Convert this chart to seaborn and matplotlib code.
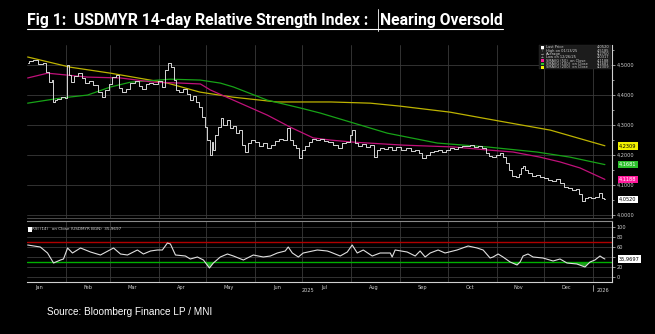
import numpy as np
import pandas as pd
import matplotlib
matplotlib.use("Agg")
import matplotlib.pyplot as plt
import matplotlib.dates as mdates
import matplotlib.ticker as mticker
import matplotlib.transforms as mtransforms
from matplotlib.lines import Line2D
from matplotlib.patches import Rectangle
import seaborn as sns

# ---------------- data (days since 2025-01-01) ----------------
start = pd.Timestamp("2025-01-01")

price_days = [7, 9, 12, 15, 18, 19.6, 21.5, 23, 23.4, 25, 26.6, 29.7, 31, 32.3, 33.5, 35.4, 37, 40.5, 42, 45,
              47, 50, 53, 55, 57, 59.5, 61.4, 64, 66, 68, 70, 74, 76.5, 78.4, 80.3, 83, 85, 88, 91, 93,
              95, 97, 99, 100, 102, 104, 107, 109, 111, 113, 114.5, 116.4, 118.3, 120, 121.4, 123, 124, 125, 126.5, 128.5,
              130, 132, 134, 136, 138, 140, 141.7, 143.6, 145.5, 147, 150, 152.5, 155, 157.5, 160, 162.6, 165, 167.6, 170, 172,
              174, 176, 177.7, 179.6, 181.5, 184, 186, 188.5, 191, 193.5, 196, 198.6, 202, 205, 207.5, 210, 212, 213, 215, 217.6,
              220, 222.6, 225, 227, 229, 231.5, 234, 236.6, 239, 241.6, 245, 248, 251, 254, 256, 258, 260.6, 263, 265.6, 268,
              271, 273, 276, 278, 281, 283, 286, 288.5, 291, 293.5, 296, 298, 300, 302, 305, 307, 309, 311, 313, 315,
              317, 319, 320, 321, 323, 325, 328, 330, 333, 335, 338, 340, 343, 345, 348, 350, 353, 355, 357, 359,
              361, 363, 365, 368, 370, 371, 372.5]
price_vals = [4.507, 4.513, 4.517, 4.503, 4.507, 4.477, 4.443, 4.450, 4.377, 4.383, 4.387, 4.393, 4.390, 4.500, 4.467, 4.443, 4.463, 4.473, 4.457, 4.440,
              4.447, 4.433, 4.410, 4.393, 4.417, 4.437, 4.460, 4.467, 4.423, 4.410, 4.420, 4.440, 4.447, 4.430, 4.420, 4.437, 4.440, 4.437, 4.447, 4.427,
              4.483, 4.507, 4.493, 4.450, 4.417, 4.410, 4.420, 4.403, 4.383, 4.397, 4.377, 4.360, 4.327, 4.293, 4.250, 4.200, 4.243, 4.217, 4.267, 4.293,
              4.323, 4.300, 4.317, 4.290, 4.297, 4.273, 4.283, 4.233, 4.210, 4.240, 4.250, 4.243, 4.230, 4.240, 4.223, 4.233, 4.247, 4.253, 4.250, 4.290,
              4.250, 4.233, 4.223, 4.190, 4.217, 4.230, 4.243, 4.253, 4.250, 4.253, 4.247, 4.243, 4.233, 4.223, 4.240, 4.243, 4.267, 4.283, 4.240, 4.230,
              4.237, 4.227, 4.233, 4.193, 4.217, 4.223, 4.220, 4.227, 4.217, 4.227, 4.217, 4.223, 4.213, 4.217, 4.207, 4.190, 4.200, 4.210, 4.213, 4.217,
              4.210, 4.217, 4.223, 4.220, 4.227, 4.230, 4.230, 4.233, 4.227, 4.230, 4.223, 4.207, 4.197, 4.193, 4.200, 4.207, 4.193, 4.173, 4.150, 4.130,
              4.127, 4.137, 4.157, 4.163, 4.150, 4.140, 4.130, 4.133, 4.127, 4.123, 4.117, 4.113, 4.120, 4.107, 4.093, 4.090, 4.083, 4.087, 4.070, 4.047,
              4.057, 4.060, 4.057, 4.060, 4.073, 4.057, 4.052]

sma50_days = [7, 19.6, 44.9, 65.8, 86.7, 103.7, 116.4, 122.7, 137.3, 158.8, 173.3, 187.9, 198.6, 213.2, 244.8, 276.4, 297.9, 314.4, 331.4, 344.1, 356.7, 372.5]
sma50_vals = [4.457, 4.473, 4.460, 4.457, 4.443, 4.440, 4.437, 4.417, 4.383, 4.333, 4.293, 4.257, 4.250, 4.243, 4.233, 4.227, 4.217, 4.210, 4.193, 4.177, 4.157, 4.1188]

sma100_days = [7, 27.8, 44.9, 59.5, 72.1, 97.4, 116.4, 129, 137.3, 158.8, 179.6, 192.3, 213.2, 234.7, 266.3, 297.9, 329.5, 350.4, 372.5]
sma100_vals = [4.373, 4.390, 4.400, 4.427, 4.443, 4.453, 4.450, 4.440, 4.427, 4.383, 4.357, 4.340, 4.307, 4.273, 4.240, 4.227, 4.210, 4.193, 4.1681]

sma200_days = [7, 34, 59.5, 95.5, 116, 137, 165, 199, 224, 243, 274.5, 306, 338, 372.5]
sma200_vals = [4.527, 4.493, 4.473, 4.440, 4.410, 4.393, 4.377, 4.377, 4.373, 4.363, 4.343, 4.313, 4.283, 4.2309]

rsi_days = [7, 15, 19.6, 23.4, 27.8, 29.7, 32.3, 35.4, 40.5, 46.8, 53.1, 61.4, 65.8, 70.2, 76.5, 80.3, 84.8, 89.2, 92.3, 95.5,
            97.4, 100.6, 106.9, 110, 114.5, 118.3, 122.1, 124.6, 129, 133.5, 137.3, 143.6, 149.9, 156.2, 160.7, 165.1, 170.1, 172, 174.6, 178.4,
            181.5, 190.4, 196.7, 198.6, 204.9, 209.4, 212.5, 215.7, 219.5, 225.2, 230.2, 236.6, 237.8, 239.7, 247.3, 252.4, 255.5, 258.7, 261.9, 266.9,
            271.3, 278.9, 285.9, 291.6, 295.4, 299.8, 301.7, 304.9, 308, 312.5, 316.9, 318.8, 320.7, 323.8, 327, 333.3, 339.7, 344.1, 348.5, 354.8,
            359.9, 363.1, 366.2, 369.4, 371.3, 372.5]
rsi_vals = [64, 60, 48, 28, 34, 36, 58, 48, 58, 50, 44, 58, 46, 44, 54, 46, 52, 54, 54, 68,
            66, 44, 42, 36, 40, 34, 18, 28, 40, 46, 42, 34, 44, 40, 42, 48, 52, 60, 48, 40,
            48, 54, 52, 50, 42, 50, 64, 48, 54, 42, 48, 48, 40, 54, 50, 42, 52, 40, 48, 54,
            48, 54, 62, 58, 54, 38, 40, 46, 40, 30, 24, 30, 42, 46, 40, 38, 32, 36, 28, 26,
            20, 30, 34, 42, 38, 35.97]

price_ticks = [4.0, 4.1, 4.2, 4.3, 4.4, 4.5]
rsi_ticks = [0, 20, 40, 60, 80, 100]
rsi_tick_labels = ["0", "20", "", "60", "80", "100"]
month_labels = ["Jan", "Feb", "Mar", "Apr", "May", "Jun", "Jul", "Aug", "Sep", "Oct", "Nov", "Dec"]

legend_labels = ["Last Price", "High on 01/13/25", "Average", "Low on 12/26/25",
                 "SMAVG (50)  on Close", "SMAVG (100)  on Close", "SMAVG (200)  on Close"]
legend_values = ["4,0520", "4,5185", "4,2750", "4,0317", "4,1188", "4,1681", "4,2309"]

title_left = "Fig 1:  USDMYR 14-day Relative Strength Index :   "
title_right = "Nearing Oversold"
source_text = "Source: Bloomberg Finance LP / MNI"

# ---------------- styling ----------------
sns.set_theme(style="dark")
plt.rcParams["font.family"] = ["DejaVu Sans"]

W, H = 655, 334
fig = plt.figure(figsize=(W / 100, H / 100), dpi=100, facecolor="black")

def fx(x): return x / W
def fy(y): return 1 - y / H

def d(days):
    return start + pd.to_timedelta(np.asarray(days, dtype=float), unit="D")

BG = "black"
GRID = "#3a3a3a"
TXT = "#cfcfcf"
YEL_LINE = "#bdb300"
GRN_LINE = "#17a317"
PNK_LINE = "#c0117a"

xl = (d([6.6])[0], d([377])[0])

ax = fig.add_axes([fx(27), fy(218), fx(612) - fx(27), fy(45) - fy(218)])
ax2 = fig.add_axes([fx(27), fy(282), fx(612) - fx(27), fy(221) - fy(282)])

for a in (ax, ax2):
    a.set_facecolor(BG)
    for s in ("left", "top"):
        a.spines[s].set_visible(False)
    a.spines["right"].set_color("#d0d0d0")
    a.spines["right"].set_linewidth(0.8)
    a.set_xlim(*xl)
    a.xaxis.set_major_locator(mdates.MonthLocator())
    a.grid(True, which="major", axis="both", color=GRID, lw=0.6)
    a.yaxis.tick_right()
    a.tick_params(axis="y", colors=TXT, labelsize=3.6, length=2, width=0.5, pad=1.5)

sns.lineplot(x=d(sma200_days), y=sma200_vals, ax=ax, color=YEL_LINE, lw=0.9, sort=False)
sns.lineplot(x=d(sma100_days), y=sma100_vals, ax=ax, color=GRN_LINE, lw=0.9, sort=False)
sns.lineplot(x=d(sma50_days), y=sma50_vals, ax=ax, color=PNK_LINE, lw=0.9, sort=False)
sns.lineplot(x=d(price_days), y=price_vals, ax=ax, color="#d6d6d6", lw=0.7, sort=False,
             drawstyle="steps-mid")

ax.set_ylim(3.99, 4.567)
ax.set_yticks(price_ticks)
ax.yaxis.set_minor_locator(mticker.MultipleLocator(0.05))
ax.tick_params(axis="y", which="minor", colors=TXT, length=1.2, width=0.5)
ax.yaxis.set_major_formatter(mticker.FuncFormatter(lambda v, p: f"{v:.4f}".replace(".", ",")))
ax.tick_params(axis="x", length=0, labelbottom=False)
ax.spines["bottom"].set_color("#555555")
ax.spines["bottom"].set_linewidth(0.6)
ax.set_xlabel("")
ax.set_ylabel("")

tr = mtransforms.blended_transform_factory(ax.transAxes, ax.transData)
for val, fc, tc in [(4.2309, "#f2f200", "black"), (4.1681, "#2cc02c", "white"),
                    (4.1188, "#ff1a9c", "white"), (4.0520, "white", "black")]:
    ax.text(1.012, val, f"{val:.4f}".replace(".", ","), transform=tr, fontsize=3.6, color=tc,
            va="center", ha="left",
            bbox=dict(boxstyle="square,pad=0.25", fc=fc, ec="none"), clip_on=False)

# RSI panel
rd = d(rsi_days)
rv = np.asarray(rsi_vals, dtype=float)
ax2.axhline(70, color="#b00000", lw=1.0)
ax2.axhline(30, color="#00b000", lw=1.0)
ax2.fill_between(rd, rv, 30, where=rv < 30, interpolate=True, color="#1f9a1f", lw=0)
sns.lineplot(x=rd, y=rv, ax=ax2, color="#e0e0e0", lw=0.8, sort=False)
ax2.set_ylim(-10, 112)
ax2.set_yticks(rsi_ticks)
ax2.set_yticklabels(rsi_tick_labels)
ax2.spines["bottom"].set_color("#d0d0d0")
ax2.spines["bottom"].set_linewidth(0.8)
ax2.spines["top"].set_visible(True)
ax2.spines["top"].set_color("#8a8a8a")
ax2.spines["top"].set_linewidth(0.8)
ax2.xaxis.set_minor_locator(mdates.MonthLocator(bymonthday=15))
ax2.xaxis.set_minor_formatter(mticker.FuncFormatter(
    lambda v, p: month_labels[mdates.num2date(v).month - 1]))
ax2.xaxis.set_major_formatter(mticker.NullFormatter())
ax2.tick_params(axis="x", which="minor", length=0, colors=TXT, labelsize=3.6, pad=2.5)
ax2.tick_params(axis="x", which="major", length=0)
ax2.set_xlabel("")
ax2.set_ylabel("")

tr2 = mtransforms.blended_transform_factory(ax2.transAxes, ax2.transData)
ax2.text(1.012, rsi_vals[-1], "35,9697", transform=tr2, fontsize=3.6, color="black",
         va="center", ha="left", bbox=dict(boxstyle="square,pad=0.25", fc="white", ec="none"),
         clip_on=False)

fig.text(fx(308), fy(290), "2025", color=TXT, fontsize=3.6, ha="center", va="center")
fig.text(fx(603), fy(290), "2026", color=TXT, fontsize=3.6, ha="center", va="center")
fig.add_artist(Line2D([fx(593), fx(593)], [fy(285), fy(291)], color=TXT, lw=0.5))

# RSI legend
fig.add_artist(Rectangle((fx(28), fy(231.5)), fx(3.5), fy(227) - fy(231.5), fc="white", ec="none"))
fig.text(fx(32.5), fy(229.3), "RSI (14)   on Close (USDMYR BGN)  35,9697", color=TXT,
         fontsize=3.0, ha="left", va="center")

# price legend box
fig.add_artist(Rectangle((fx(539), fy(69)), fx(72), fy(44.5) - fy(69), fc="#1c1c1c", ec="#2a2a2a", lw=0.3))
marker_cols = ["white", None, None, None, "#ff1a9c", "#2cc02c", "#f2f200"]
for i, (lab, val, mc) in enumerate(zip(legend_labels, legend_values, marker_cols)):
    yy = 47.5 + i * 3.3
    if mc is not None:
        fig.add_artist(Rectangle((fx(541), fy(yy + 1.4)), fx(3), fy(yy - 1.4) - fy(yy + 1.4), fc=mc, ec="none"))
    else:
        sym = ["", "⊤", "→", "⊥"][i]
        fig.text(fx(542.5), fy(yy), sym, color=TXT, fontsize=2.4, ha="center", va="center")
    fig.text(fx(546), fy(yy), lab, color=TXT, fontsize=2.6, ha="left", va="center")
    fig.text(fx(609.5), fy(yy), val, color=TXT, fontsize=2.6, ha="right", va="center")

# title with underline, sized to fit reference width
TFAM = ["Roboto", "DejaVu Sans"]
r = fig.canvas.get_renderer()
probe = fig.text(0, 0, title_left + title_right, fontsize=10, fontweight="bold", family=TFAM)
wpx = probe.get_window_extent(r).width
probe.remove()
tsize = 10 * 476 / wpx
t1 = fig.text(fx(27), fy(25.5), title_left, color="white", fontsize=tsize, fontweight="bold",
              family=TFAM, ha="left", va="baseline")
bb1 = t1.get_window_extent(r)
t2 = fig.text(bb1.x1 / W, fy(25.5), title_right, color="white", fontsize=tsize, fontweight="bold",
              family=TFAM, ha="left", va="baseline")
bb2 = t2.get_window_extent(r)
uy = fy(28.5)
fig.add_artist(Line2D([bb1.x0 / W, bb2.x1 / W], [uy, uy], color="white", lw=0.8))
cx = bb2.x0 / W - fx(1.5)
fig.add_artist(Line2D([cx, cx], [fy(9), fy(31)], color="white", lw=0.6))

fig.text(fx(47), fy(312), source_text, color="white", fontsize=7.2, ha="left", va="center",
         family=["Liberation Sans", "DejaVu Sans"])

fig.savefig("out.png", dpi=100, facecolor="black")
